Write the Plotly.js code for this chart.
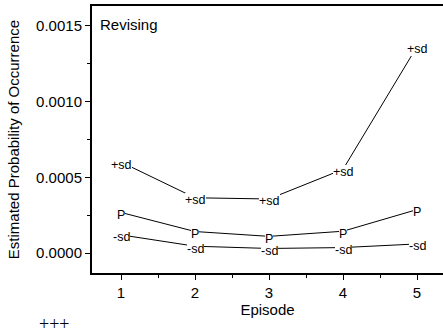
<!DOCTYPE html>
<html>
<head>
<meta charset="utf-8">
<script src="https://cdn.plot.ly/plotly-3.0.1.min.js"></script>
<style>
  html, body { margin: 0; padding: 0; background: #fff; }
  #chart { width: 443px; height: 333px; }
</style>
</head>
<body>
<div id="chart"></div>
<script>
// Episodes on the x axis
const episodes = [1, 2, 3, 4, 5];

// Estimated probability of occurrence: point estimate and +/- one standard deviation
const probP   = [0.000268, 0.000142, 0.000110, 0.000144, 0.000287];
const plusSd  = [0.000601, 0.000365, 0.000357, 0.000553, 0.001364];
const minusSd = [0.000120, 0.000045, 0.000030, 0.000036, 0.000060];

// Marker text used for each curve
const labelP = 'P';
const labelPlus = '+sd';
const labelMinus = '-sd';

// Axis tick positions
const yTickVals = [0, 0.0005, 0.0010, 0.0015];
const yTickText = ['0.0000', '0.0005', '0.0010', '0.0015'];

const fontFamily = 'Liberation Sans, Arial, Helvetica, sans-serif';

const series = [
  { y: plusSd, label: labelPlus },
  { y: probP, label: labelP },
  { y: minusSd, label: labelMinus }
];

const traces = series.map(s => ({
  type: 'scatter',
  mode: 'lines',
  x: episodes,
  y: s.y,
  line: { color: 'black', width: 1 },
  hoverinfo: 'skip'
}));

// Text markers sit on each point with a white box so the connecting lines break around them
const markerNotes = [];
series.forEach(s => {
  s.y.forEach((v, i) => {
    markerNotes.push({
      x: episodes[i], y: v, xref: 'x', yref: 'y',
      text: s.label, showarrow: false,
      bgcolor: 'white', borderpad: 0, borderwidth: 0,
      yshift: -2.5,
      font: { family: fontFamily, size: 12.5, color: 'black' }
    });
  });
});

const layout = {
  width: 443, height: 333,
  margin: { l: 92, r: 0, t: 6, b: 60 },
  paper_bgcolor: 'white', plot_bgcolor: 'white',
  font: { family: fontFamily, size: 15, color: 'black' },
  showlegend: false,
  xaxis: {
    range: [0.608, 5.351],
    tickmode: 'array', tickvals: episodes, ticktext: episodes.map(String),
    ticks: 'outside', ticklen: 5, tickwidth: 1, tickcolor: 'black',
    showline: true, linewidth: 2, linecolor: 'black', mirror: true,
    showgrid: false, zeroline: false,
    minor: { tickmode: 'linear', tick0: 0, dtick: 0.5, ticks: 'outside', ticklen: 3, tickwidth: 1, tickcolor: 'black', showgrid: false },
    tickfont: { family: fontFamily, size: 15, color: 'black' },
    title: { text: 'Episode', standoff: 4, font: { family: fontFamily, size: 15, color: 'black' } }
  },
  yaxis: {
    range: [-0.000132, 0.001632],
    tickmode: 'array', tickvals: yTickVals, ticktext: yTickText,
    ticks: 'outside', ticklen: 5, tickwidth: 1, tickcolor: 'black',
    showline: true, linewidth: 2, linecolor: 'black',
    showgrid: false, zeroline: false,
    minor: { tickmode: 'linear', tick0: 0, dtick: 0.00025, ticks: 'outside', ticklen: 3, tickwidth: 1, tickcolor: 'black', showgrid: false },
    tickfont: { family: fontFamily, size: 15, color: 'black' },
    title: { text: 'Estimated Probability of Occurrence', standoff: 13, font: { family: fontFamily, size: 15, color: 'black' } }
  },
  annotations: markerNotes.concat([
    {
      xref: 'paper', yref: 'paper', x: 0.017, y: 0.931,
      xanchor: 'left', yanchor: 'middle',
      text: 'Revising', showarrow: false,
      font: { family: fontFamily, size: 15, color: 'black' }
    },
    {
      xref: 'paper', yref: 'paper', x: -0.108, y: -0.192,
      xanchor: 'center', yanchor: 'middle',
      text: '+++', showarrow: false,
      font: { family: 'Liberation Serif, Times New Roman, serif', size: 18, color: 'black' }
    }
  ])
};

Plotly.newPlot('chart', traces, layout, { staticPlot: true, displayModeBar: false });
</script>
</body>
</html>
